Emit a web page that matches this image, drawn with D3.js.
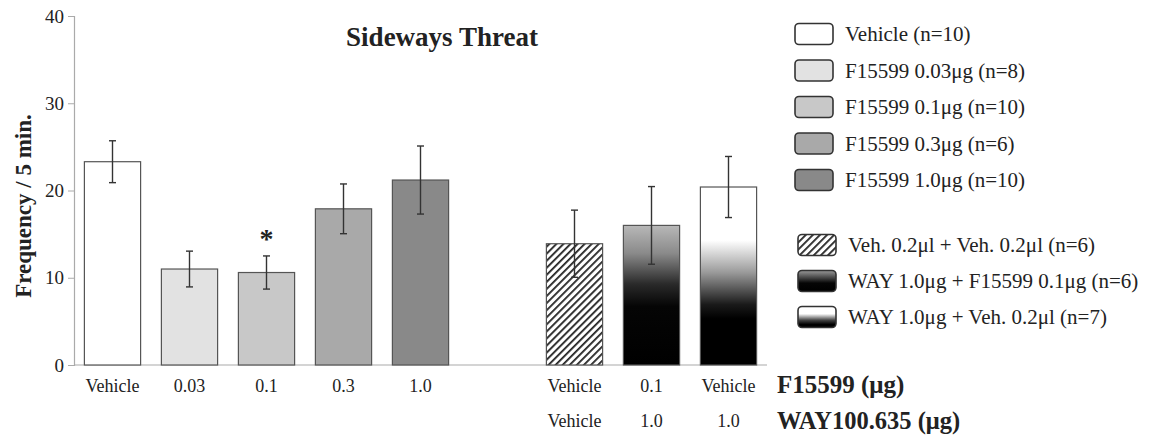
<!DOCTYPE html>
<html>
<head>
<meta charset="utf-8">
<script src="https://cdn.jsdelivr.net/npm/d3@7"></script>
<style>
  html, body { margin: 0; padding: 0; background: #fff; }
  text { font-family: "Liberation Serif", "Times New Roman", serif; fill: #222; }
</style>
</head>
<body>
<div id="chart"></div>
<script>
const width = 1155;
const height = 438;

// bar slots (slot 5 is the gap between the two groups)
const slots = ["veh", "f003", "f01", "f03", "f10", "gap", "vv", "wf", "wv"];
const barKeys = ["veh", "f003", "f01", "f03", "f10", "vv", "wf", "wv"];
const means = [23.3, 11.0, 10.6, 17.9, 21.2, 13.9, 16.0, 20.4];
const errs = [2.4, 2.05, 1.9, 2.85, 3.9, 3.85, 4.45, 3.5];
const fills = ["#ffffff", "#e2e2e2", "#c8c8c8", "#a9a9a9", "#898989", "url(#hatch)", "url(#gradBlack)", "url(#gradWhite)"];

const row1Labels = ["Vehicle", "0.03", "0.1", "0.3", "1.0", "", "Vehicle", "0.1", "Vehicle"];
const row2Labels = ["", "", "", "", "", "", "Vehicle", "1.0", "1.0"];
const yTicks = [0, 10, 20, 30, 40];

const legend1 = ["Vehicle (n=10)", "F15599 0.03μg (n=8)", "F15599 0.1μg (n=10)", "F15599 0.3μg (n=6)", "F15599 1.0μg (n=10)"];
const legend1Fill = ["#ffffff", "#e2e2e2", "#c8c8c8", "#a9a9a9", "#898989"];
const legend2 = ["Veh. 0.2μl + Veh. 0.2μl (n=6)", "WAY 1.0μg + F15599 0.1μg (n=6)", "WAY 1.0μg + Veh. 0.2μl (n=7)"];
const legend2Fill = ["url(#hatch)", "url(#gradBlackL)", "url(#gradWhiteL)"];

const svg = d3.select("#chart").append("svg")
    .attr("width", width)
    .attr("height", height);

const defs = svg.append("defs");

// diagonal hatching
const hatch = defs.append("pattern")
    .attr("id", "hatch")
    .attr("patternUnits", "userSpaceOnUse")
    .attr("width", 5).attr("height", 5)
    .attr("patternTransform", "rotate(45)");
hatch.append("rect").attr("width", 5).attr("height", 5).attr("fill", "#fff");
hatch.append("rect").attr("x", 0).attr("width", 1.8).attr("height", 5).attr("fill", "#222");

function vGrad(id, stops) {
    const g = defs.append("linearGradient").attr("id", id)
        .attr("x1", 0).attr("y1", 0).attr("x2", 0).attr("y2", 1);
    stops.forEach(s => g.append("stop").attr("offset", s[0]).attr("stop-color", s[1]));
}
vGrad("gradBlack", [["0%", "#b8b8b8"], ["20%", "#8a8a8a"], ["42%", "#2a2a2a"], ["58%", "#050505"], ["100%", "#000"]]);
vGrad("gradWhite", [["0%", "#ffffff"], ["30%", "#ffffff"], ["48%", "#9a9a9a"], ["66%", "#1a1a1a"], ["74%", "#000"], ["100%", "#000"]]);
vGrad("gradBlackL", [["0%", "#9a9a9a"], ["35%", "#444"], ["60%", "#050505"], ["100%", "#000"]]);
vGrad("gradWhiteL", [["0%", "#ffffff"], ["35%", "#ffffff"], ["65%", "#444"], ["85%", "#000"], ["100%", "#000"]]);

const x = d3.scaleBand()
    .domain(slots)
    .range([74, 767])
    .paddingInner(0.27)
    .paddingOuter(0.135);

const y = d3.scaleLinear()
    .domain([0, 40])
    .range([365, 16]);

// y axis
const yAxis = svg.append("g")
    .attr("transform", "translate(74,0)")
    .call(d3.axisLeft(y).tickValues(yTicks).tickSize(6).tickPadding(4));
yAxis.select(".domain").attr("stroke", "#aaa").attr("stroke-width", 1.2);
yAxis.selectAll(".tick line").attr("stroke", "#aaa");
yAxis.selectAll(".tick text")
    .attr("font-family", "Liberation Serif")
    .attr("font-size", 19)
    .attr("fill", "#222");

// baseline
svg.append("line")
    .attr("x1", 74).attr("x2", 767)
    .attr("y1", y(0)).attr("y2", y(0))
    .attr("stroke", "#aaa").attr("stroke-width", 1.2);

const bars = barKeys.map((k, i) => ({ key: k, mean: means[i], err: errs[i], fill: fills[i] }));

svg.append("g")
    .selectAll("rect")
    .data(bars)
    .join("rect")
    .attr("x", d => x(d.key))
    .attr("y", d => y(d.mean))
    .attr("width", x.bandwidth())
    .attr("height", d => y(0) - y(d.mean))
    .attr("fill", d => d.fill)
    .attr("stroke", "#555")
    .attr("stroke-width", 1.2);

// error bars
const eb = svg.append("g").attr("stroke", "#333").attr("stroke-width", 1.4);
bars.forEach(d => {
    const cx = x(d.key) + x.bandwidth() / 2;
    eb.append("line").attr("x1", cx).attr("x2", cx)
        .attr("y1", y(d.mean + d.err)).attr("y2", y(d.mean - d.err));
    [d.mean + d.err, d.mean - d.err].forEach(v => {
        eb.append("line").attr("x1", cx - 3.5).attr("x2", cx + 3.5)
            .attr("y1", y(v)).attr("y2", y(v));
    });
});

// significance marker
svg.append("text")
    .attr("x", x("f01") + x.bandwidth() / 2)
    .attr("y", y(means[2] + errs[2]) - 2)
    .attr("dy", "-0.2em")
    .attr("text-anchor", "middle")
    .attr("font-size", 28)
    .attr("font-weight", "bold")
    .attr("font-family", "Liberation Sans")
    .text("*");

// category labels
svg.append("g").selectAll("text")
    .data(slots.map((s, i) => ({ s, t: row1Labels[i] })))
    .join("text")
    .attr("x", d => x(d.s) + x.bandwidth() / 2)
    .attr("y", 392)
    .attr("text-anchor", "middle")
    .attr("font-size", 18)
    .text(d => d.t);

svg.append("g").selectAll("text")
    .data(slots.map((s, i) => ({ s, t: row2Labels[i] })))
    .join("text")
    .attr("x", d => x(d.s) + x.bandwidth() / 2)
    .attr("y", 427)
    .attr("text-anchor", "middle")
    .attr("font-size", 18)
    .text(d => d.t);

svg.append("text")
    .attr("x", 777).attr("y", 393)
    .attr("font-size", 25).attr("font-weight", "bold")
    .text("F15599 (μg)");
svg.append("text")
    .attr("x", 777).attr("y", 429)
    .attr("font-size", 24.5).attr("font-weight", "bold")
    .text("WAY100.635 (μg)");

// title
svg.append("text")
    .attr("x", 442).attr("y", 46)
    .attr("text-anchor", "middle")
    .attr("font-size", 27).attr("font-weight", "bold")
    .text("Sideways Threat");

// y label
svg.append("text")
    .attr("transform", "translate(31,206) rotate(-90)")
    .attr("text-anchor", "middle")
    .attr("font-size", 23).attr("font-weight", "bold")
    .text("Frequency / 5 min.");

// legends
function drawLegend(items, fillsL, x0, y0, step) {
    const g = svg.append("g");
    items.forEach((t, i) => {
        const cy = y0 + i * step;
        g.append("rect")
            .attr("x", x0).attr("y", cy - 10.5)
            .attr("width", 38).attr("height", 21)
            .attr("rx", 4).attr("ry", 4)
            .attr("fill", fillsL[i])
            .attr("stroke", "#333").attr("stroke-width", 1.6);
        g.append("text")
            .attr("x", x0 + 50).attr("y", cy + 7)
            .attr("font-size", 21)
            .text(t);
    });
}
drawLegend(legend1, legend1Fill, 795, 34, 36.5);
drawLegend(legend2, legend2Fill, 798, 245, 36);
</script>
</body>
</html>
